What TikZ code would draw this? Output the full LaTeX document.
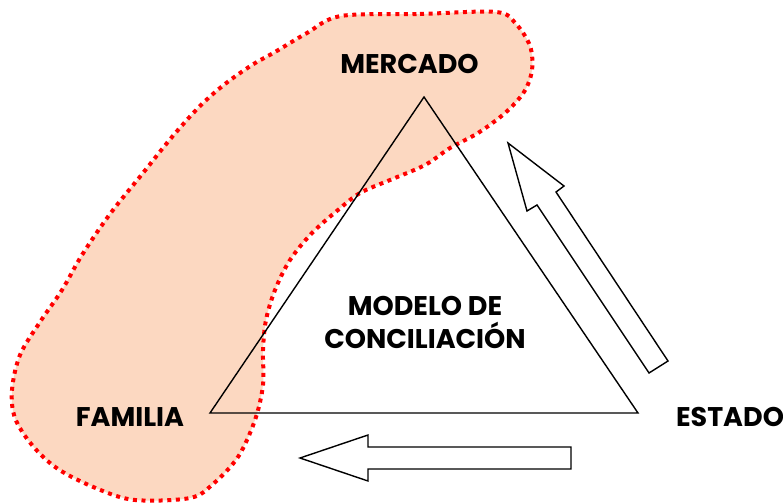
\documentclass[tikz,border=0pt]{standalone}
\usepackage{fontspec}
\setmainfont{Poppins}
\definecolor{blobfill}{RGB}{252,216,193}
\definecolor{blobline}{RGB}{255,0,0}
\tikzset{
  lbl/.style={font=\fontsize{27}{33}\selectfont\bfseries, text=black, inner sep=0pt, align=center},
  blobedge/.style={draw=blobline, line width=4pt, dash pattern=on 4pt off 4.6pt, fill=blobfill},
  tri/.style={draw=black, line width=1.4pt, line join=miter},
  blockarrow/.style={draw=black, line width=1.4pt, fill=white, line join=miter}
}
\begin{document}
\begin{tikzpicture}[x=1pt,y=-1pt]
\useasboundingbox (0,0) rectangle (783,503);
% region blob
\draw[blobedge] plot[smooth cycle, tension=0.55] coordinates {
(341,16) (420,14) (496,12) (516,24) (530,46) (532,70) (524,92) (505,113)
(478,133) (450,148) (425,165) (390,180) (360,193) (338,210) (312,233)
(290,260) (275,290) (266,320) (263,350) (263,385) (255,420) (238,457)
(213,484) (190,498) (135,500) (98,489) (58,469) (32,445) (15,418)
(12,390) (20,355) (40,322) (62,290) (82,255) (110,214) (143,173)
(172,137) (200,106) (225,84) (252,65) (275,52) (307,33)};
% triangle
\coordinate (tt) at (424,97);
\coordinate (tl) at (210,413);
\coordinate (tr) at (638,413);
\draw[tri] (tt) -- (tl) -- (tr) -- cycle;
% block arrows
\draw[blockarrow] (508,143) -- (564,186) -- (556,192) -- (668,361) -- (649,373) -- (537,205) -- (527,211) -- cycle;
\draw[blockarrow] (300,458) -- (368,435) -- (368,447) -- (571,447) -- (571,469) -- (368,469) -- (368,481) -- cycle;
% labels
\node[lbl] (m) at (409.5,64) {MERCADO};
\node[lbl] (f) at (130,417) {FAMILIA};
\node[lbl] (e) at (730,417) {ESTADO};
\node[lbl] (c) at (425,322) {MODELO DE\\CONCILIACIÓN};
\end{tikzpicture}
\end{document}
